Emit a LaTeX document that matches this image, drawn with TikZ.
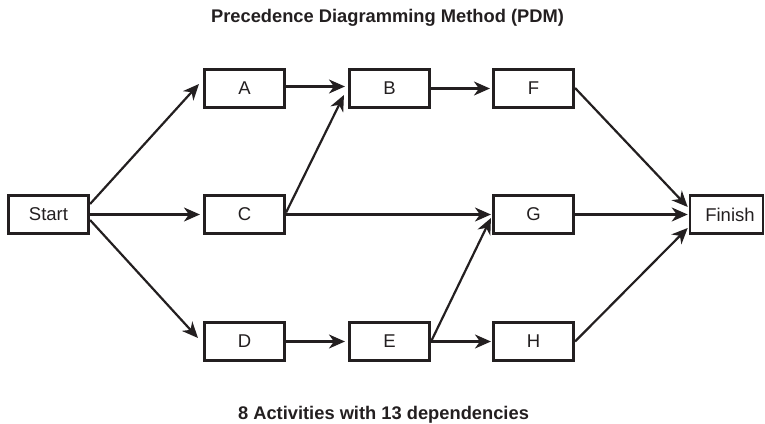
\documentclass[tikz,border=0pt]{standalone}
\usepackage{fontspec}
\setmainfont{Liberation Sans}
\usetikzlibrary{arrows.meta}
\definecolor{ink}{HTML}{231F20}
\begin{document}
\begin{tikzpicture}[x=1pt,y=-1pt,
  box/.style={draw=ink, line width=2.6pt, minimum width=80.5pt, minimum height=38.5pt,
    inner sep=0pt, text=ink, font=\fontsize{18.5}{21}\selectfont},
  arr/.style={draw=ink, line width=2.2pt,
    -{Stealth[length=16pt,width=14pt,inset=5pt]}},
  caption/.style={anchor=base, text=ink, inner sep=0pt, font=\fontsize{18.3}{21}\bfseries\selectfont}]
\useasboundingbox (0,0) rectangle (765,423);
% title and caption
\node[caption] (title) at (387.5,22) {Precedence Diagramming Method (PDM)};
\node[caption] (cap) at (383.5,419) {8 Activities with 13 dependencies};
% nodes
\node[box] (Start) at (48.5,214.5) {Start};
\node[box] (A) at (244.5,88.5) {A};
\node[box] (B) at (389.5,88.5) {B};
\node[box] (F) at (533.5,88.5) {F};
\node[box] (C) at (244.5,214.5) {C};
\node[box] (G) at (533.5,214.5) {G};
\node[box] (D) at (244.5,341.5) {D};
\node[box] (E) at (389.5,341.5) {E};
\node[box] (H) at (533.5,341.5) {H};
\node[box, minimum width=73pt, text width=73pt, align=center] (Finish) at (726.5,214.5) {\hspace*{7pt}Finish};
% connectors
\draw[arr] ([shift={(0,-10.5)}]Start.east) -- ([shift={(-4,-4.5)}]A.west);
\draw[arr] (Start.east) -- ([shift={(-3,0)}]C.west);
\draw[arr] ([shift={(0,5.5)}]Start.east) -- ([shift={(-5,-3.5)}]D.west);
\draw[arr] ([shift={(0,-2)}]A.east) -- ([shift={(-3,-2)}]B.west);
\draw[arr] ([shift={(0,-2)}]C.east) -- ([shift={(-4,6.5)}]B.west);
\draw[arr] (B.east) -- ([shift={(-2,0)}]F.west);
\draw[arr] (C.east) -- ([shift={(-1,0)}]G.west);
\draw[arr] (D.east) -- ([shift={(-3,0)}]E.west);
\draw[arr] (E.east) -- ([shift={(-1,3.5)}]G.west);
\draw[arr] (E.east) -- ([shift={(-1,0)}]H.west);
\draw[arr] ([shift={(0,-0.5)}]F.east) -- ([shift={(-1,-7.5)}]Finish.west);
\draw[arr] (G.east) -- ([shift={(-1,0)}]Finish.west);
\draw[arr] (H.east) -- ([shift={(-1,13.5)}]Finish.west);
\end{tikzpicture}
\end{document}
